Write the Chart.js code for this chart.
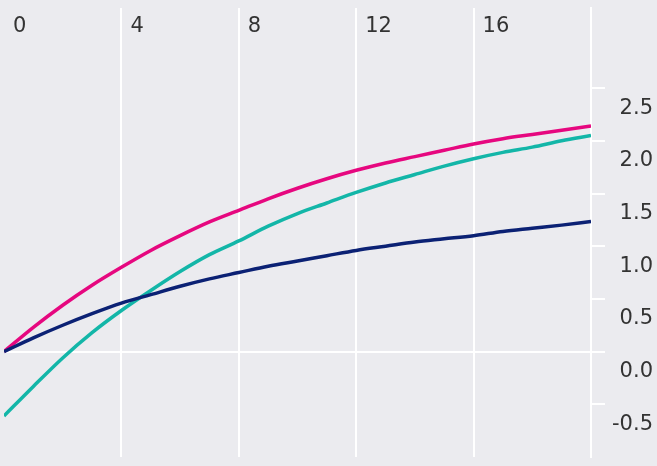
<!DOCTYPE html>
<html>
<head>
<meta charset="utf-8">
<script src="https://cdn.jsdelivr.net/npm/chart.js@4/dist/chart.umd.min.js"></script>
<style>
  html, body { margin: 0; padding: 0; background: #ebebef; }
  #wrap { width: 657px; height: 466px; }
</style>
</head>
<body>
<div id="wrap"><canvas id="curves" width="657" height="466"></canvas></div>
<script>
// values, one per integer step of x
const xValues = [0, 1, 2, 3, 4, 5, 6, 7, 8, 9, 10, 11, 12, 13, 14, 15, 16, 17, 18, 19, 20];
const pinkValues = [0, 0.23, 0.44, 0.63, 0.80, 0.96, 1.10, 1.23, 1.34, 1.45, 1.55, 1.64, 1.72, 1.79, 1.85, 1.91, 1.97, 2.02, 2.06, 2.10, 2.14];
const tealValues = [-0.61, -0.33, -0.06, 0.18, 0.39, 0.58, 0.76, 0.92, 1.05, 1.19, 1.31, 1.41, 1.51, 1.60, 1.68, 1.76, 1.83, 1.89, 1.94, 2.00, 2.05];
const navyValues = [0, 0.13, 0.25, 0.36, 0.46, 0.54, 0.62, 0.69, 0.75, 0.81, 0.86, 0.91, 0.96, 1.00, 1.04, 1.07, 1.10, 1.14, 1.17, 1.20, 1.235];
const xTickLabels = [0, 4, 8, 12, 16];
const yTickValues = [-0.5, 0, 0.5, 1.0, 1.5, 2.0, 2.5];

const toPoints = (ys) => xValues.map((x, i) => ({ x: x, y: ys[i] }));

const bgPlugin = {
    id: 'bg',
    beforeDraw(chart) {
        const c = chart.ctx;
        c.save();
        c.fillStyle = '#ebebef';
        c.fillRect(0, 0, chart.width, chart.height);
        c.restore();
    }
};

const lineStyle = (color) => ({
    borderColor: color,
    borderWidth: 3.5,
    pointRadius: 0,
    fill: false,
    cubicInterpolationMode: 'monotone'
});

new Chart(document.getElementById('curves'), {
    type: 'line',
    data: {
        datasets: [
            { label: 'navy', data: toPoints(navyValues), ...lineStyle('#0b2174') },
            { label: 'pink', data: toPoints(pinkValues), ...lineStyle('#e6077f') },
            { label: 'teal', data: toPoints(tealValues), ...lineStyle('#13b6a8') }
        ]
    },
    options: {
        responsive: false,
        animation: false,
        layout: { padding: { left: 4, top: 8, bottom: 9, right: 4 } },
        plugins: { legend: { display: false }, tooltip: { enabled: false } },
        scales: {
            x: {
                type: 'linear',
                position: 'top',
                min: 0,
                max: 20,
                border: { display: false },
                grid: {
                    drawTicks: false,
                    lineWidth: 2,
                    color: (ctx) => (ctx.tick && ctx.tick.value === 0 ? 'rgba(0,0,0,0)' : '#ffffff')
                },
                ticks: {
                    stepSize: 4,
                    autoSkip: false,
                    maxRotation: 0,
                    mirror: true,
                    align: 'start',
                    labelOffset: 9,
                    padding: 6,
                    color: '#333333',
                    font: { family: 'DejaVu Sans', size: 21 },
                    callback: (v) => (xTickLabels.includes(v) ? String(v) : '')
                },
                afterFit: (scale) => {
                    scale.height = 0;
                    scale.paddingLeft = 0;
                    scale.paddingRight = 0;
                }
            },
            y: {
                type: 'linear',
                position: 'right',
                min: -1.0,
                max: 3.26,
                border: { display: true, color: '#ffffff', width: 2 },
                grid: {
                    lineWidth: 2,
                    tickLength: 14,
                    tickColor: '#ffffff',
                    color: (ctx) => (ctx.tick && ctx.tick.value === 0 ? '#ffffff' : 'rgba(0,0,0,0)')
                },
                afterBuildTicks: (scale) => {
                    scale.ticks = yTickValues.map(v => ({ value: v }));
                },
                ticks: {
                    crossAlign: 'far',
                    padding: 0,
                    labelOffset: 20,
                    color: '#333333',
                    font: { family: 'DejaVu Sans', size: 21 },
                    callback: (v) => Number(v).toFixed(1)
                },
                afterFit: (scale) => {
                    scale.width = 62;
                    scale.paddingTop = 0;
                    scale.paddingBottom = 0;
                }
            }
        }
    },
    plugins: [bgPlugin]
});
</script>
</body>
</html>
